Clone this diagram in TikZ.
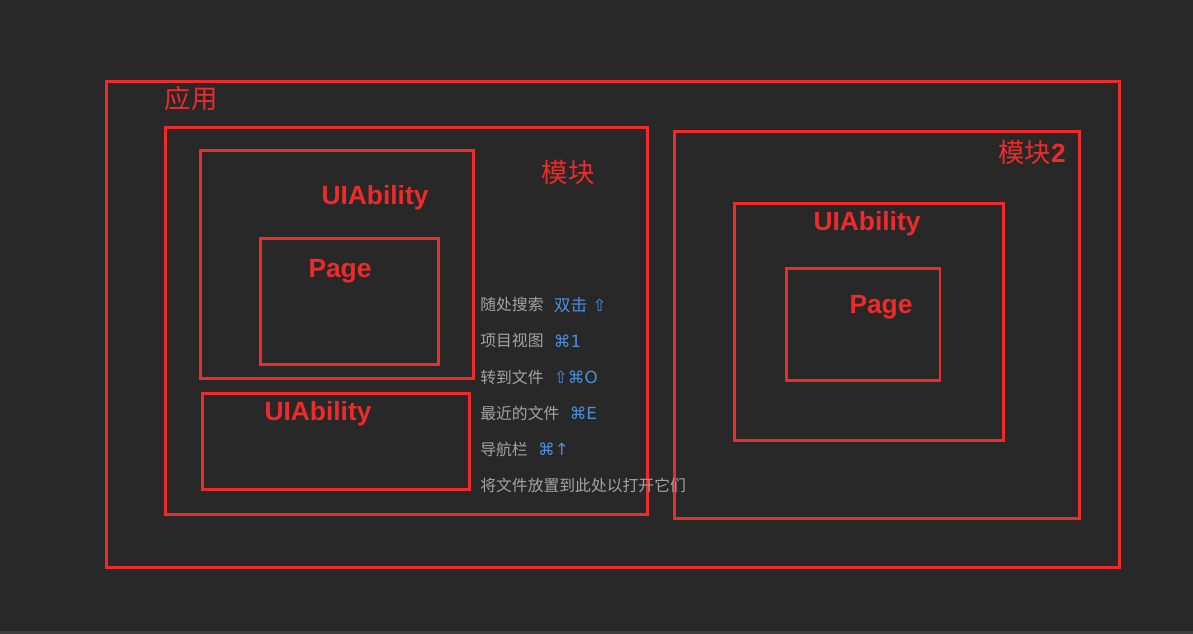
\documentclass[tikz,border=0pt]{standalone}
\usepackage{fontspec}
\usepackage{tikz}
\usetikzlibrary{positioning}
\newfontfamily\cjk{Noto Sans CJK SC}
\newfontfamily\uifont{Liberation Sans}
\newfontfamily\keyfont{DejaVu Sans}
\definecolor{Canvas}{HTML}{282828}
\definecolor{Strip}{HTML}{3B3E40}
\definecolor{Frame}{HTML}{EE2A2A}
\definecolor{Hint}{HTML}{A3A3A3}
\definecolor{Key}{HTML}{4C8EDD}
\tikzset{
  frame/.style={draw=Frame,line width=1.7pt,rectangle,inner sep=0pt},
  title/.style={text=Frame,font=\uifont\bfseries\fontsize{15}{18}\selectfont,inner sep=0pt},
  cjktitle/.style={text=Frame,font=\cjk\fontsize{15}{18}\selectfont,inner sep=0pt},
  hint/.style={text=Hint,font=\cjk\fontsize{9}{11}\selectfont,anchor=west,inner sep=0pt},
  key/.style={text=Key,font=\keyfont\fontsize{9.5}{11}\selectfont,inner sep=0pt,right=5.5pt of #1,anchor=west}
}
\begin{document}
\begin{tikzpicture}[x=0.02cm,y=-0.02cm]
  \fill[Canvas] (0,0) rectangle (1193,634);
  \useasboundingbox (0,0) rectangle (1193,634);
  \fill[Strip] (0,631) rectangle (1193,634);
  % frames
  \node[frame,minimum width=20.28cm,minimum height=9.74cm] (app) at (613,324.5) {};
  \node[frame,minimum width=9.66cm,minimum height=7.76cm] (mod) at (406.5,321) {};
  \node[frame,minimum width=5.48cm,minimum height=4.58cm] (abil) at (337,264.5) {};
  \node[frame,minimum width=3.58cm,minimum height=2.54cm] (page) at (349.5,301.5) {};
  \node[frame,minimum width=5.36cm,minimum height=1.94cm] (abiltwo) at (336,441.5) {};
  \node[frame,minimum width=8.12cm,minimum height=7.76cm] (modtwo) at (877,325) {};
  \node[frame,minimum width=5.40cm,minimum height=4.76cm] (abilthree) at (869,322) {};
  \node[frame,minimum width=3.08cm,minimum height=2.26cm] (pagetwo) at (863,324.5) {};
  % labels
  \node[cjktitle] (applbl) at (191,98) {应用};
  \node[cjktitle] (modlbl) at (568,173) {模块};
  \node[cjktitle] (modtwolbl) at (1032,153) {模块{\uifont\bfseries 2}};
  \node[title] (abillbl) at (375,198) {UIAbility};
  \node[title] (pagelbl) at (340,271) {Page};
  \node[title] (abiltwolbl) at (318,414) {UIAbility};
  \node[title] (abilthreelbl) at (867,224) {UIAbility};
  \node[title] (pagetwolbl) at (881,307) {Page};
  % drop hints
  \node[hint] (hsearch) at (480,305) {随处搜索};
  \node[key=hsearch] {{\cjk 双击} ⇧};
  \node[hint] (hproject) at (480,341) {项目视图};
  \node[key=hproject] {⌘1};
  \node[hint] (hgoto) at (480,377) {转到文件};
  \node[key=hgoto] {⇧⌘O};
  \node[hint] (hrecent) at (480,413) {最近的文件};
  \node[key=hrecent] {⌘E};
  \node[hint] (hnav) at (480,449) {导航栏};
  \node[key=hnav] {⌘↑};
  \node[hint] (hdrop) at (480,485) {将文件放置到此处以打开它们};
\end{tikzpicture}
\end{document}
